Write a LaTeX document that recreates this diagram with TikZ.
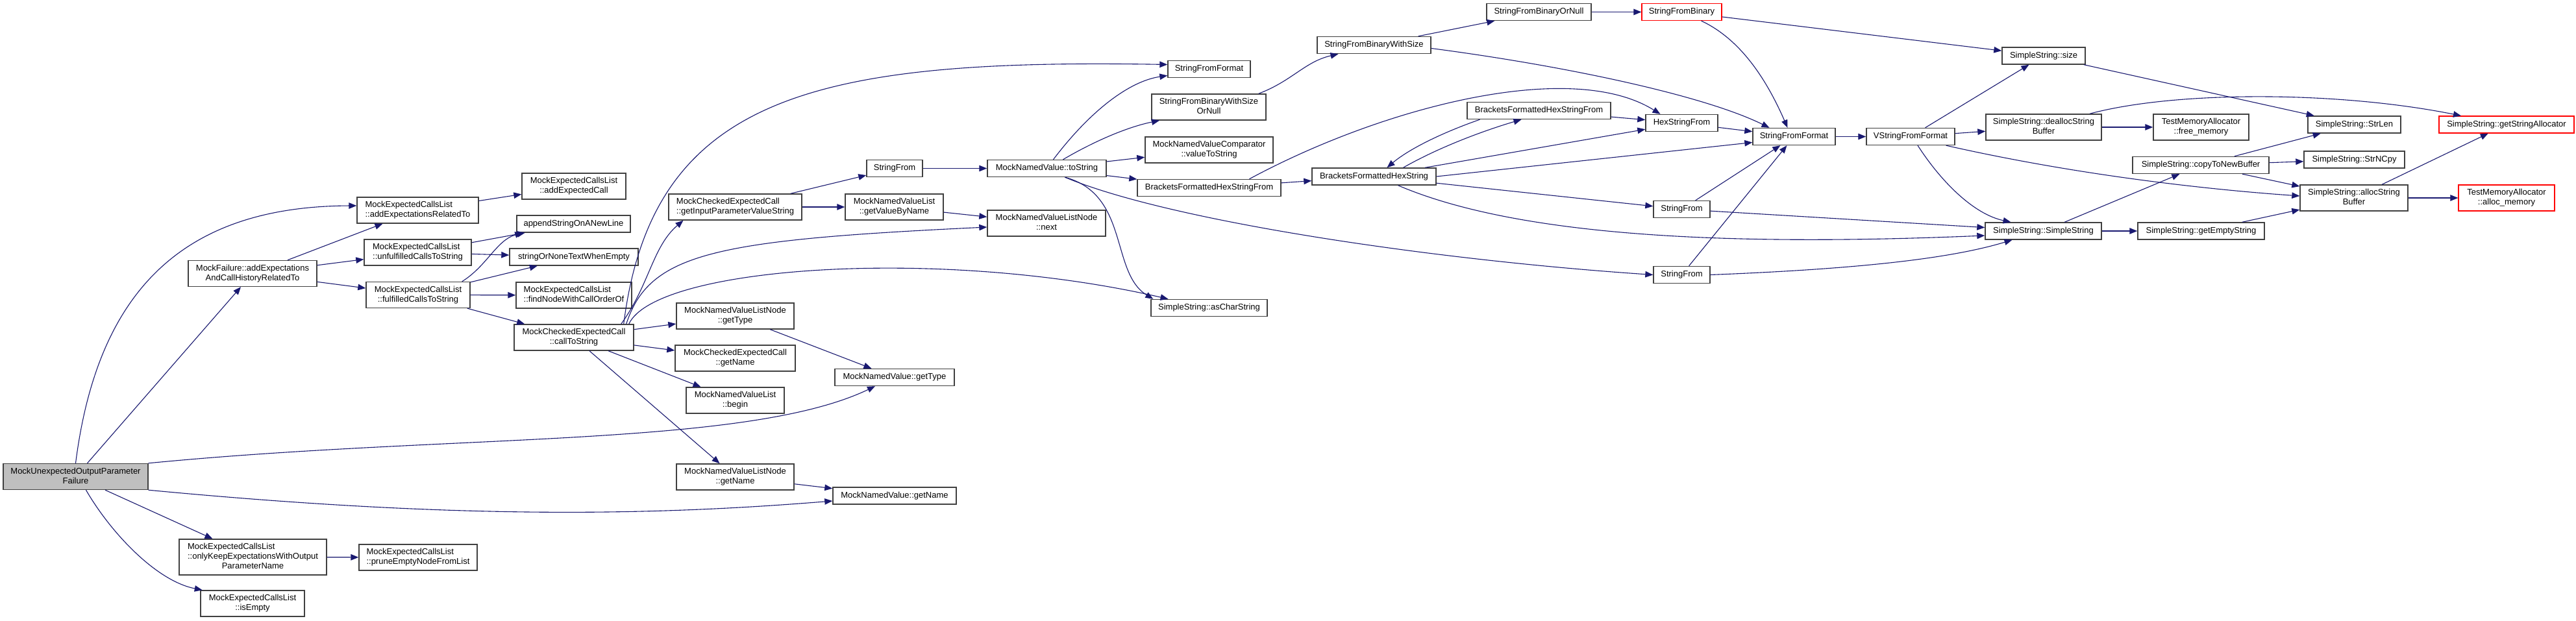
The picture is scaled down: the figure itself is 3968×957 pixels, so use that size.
\documentclass[tikz,border=0pt]{standalone}
\usepackage{fontspec}
\setmainfont{Liberation Sans}
\usepackage{tikz}
\usetikzlibrary{arrows.meta}
\definecolor{edgeblue}{HTML}{191970}
\definecolor{boxline}{gray}{0.25}
\definecolor{rootfill}{gray}{0.75}
\definecolor{extred}{HTML}{FF0000}
% two-part label: upper lines flush left, last line centred
\newcommand{\fnlabel}[2]{\begin{tabular}{@{}l@{}}#1\\\multicolumn{1}{@{}c@{}}{#2}\end{tabular}}

\begin{document}
\begin{tikzpicture}[
    x=1pt, y=-1pt,
    fn/.style  ={draw=boxline, line width=1.4pt, fill=white, inner xsep=0pt, inner ysep=5pt,
                 minimum height=26pt, align=center, font=\fontsize{13}{15}\selectfont},
    root/.style={fn, fill=rootfill},
    ext/.style ={fn, draw=extred, line width=1.2pt},
    call/.style={-{Triangle[length=12pt,width=9.5pt]}, line width=1.1pt, draw=edgeblue}
]
\path[use as bounding box, fill=white] (0,0) rectangle (3968,957);

% Column 0/1 -- the failure and the expectation list
\node[root, minimum width=223pt] (main)        at (116.5,734.5) {\fnlabel{MockUnexpectedOutputParameter}{Failure}};
\node[fn, minimum width=198pt]   (failRel)     at (389,421.5)   {\fnlabel{MockFailure::addExpectations}{AndCallHistoryRelatedTo}};
\node[fn, minimum width=227pt]   (keepOut)     at (389.5,858.5) {\fnlabel{MockExpectedCallsList\\::onlyKeepExpectationsWithOutput}{ParameterName}};
\node[fn, minimum width=160pt]   (isEmpty)     at (389,930)     {\fnlabel{MockExpectedCallsList}{::isEmpty}};
\node[fn, minimum width=187pt]   (addExpRel)   at (643.5,324)   {\fnlabel{MockExpectedCallsList}{::addExpectationsRelatedTo}};
\node[fn, minimum width=165pt]   (unfulfilled) at (643.5,389)   {\fnlabel{MockExpectedCallsList}{::unfulfilledCallsToString}};
\node[fn, minimum width=160pt]   (fulfilled)   at (644,454.5)   {\fnlabel{MockExpectedCallsList}{::fulfilledCallsToString}};
\node[fn, minimum width=182pt]   (prune)       at (644,859)     {\fnlabel{MockExpectedCallsList}{::pruneEmptyNodeFromList}};

% Column 2 -- string helpers and callToString
\node[fn, minimum width=160pt] (addCall)    at (884,287)   {\fnlabel{MockExpectedCallsList}{::addExpectedCall}};
\node[fn, minimum width=175pt] (appendLine) at (883.5,345) {appendStringOnANewLine};
\node[fn, minimum width=198pt] (noneText)   at (884,396)   {stringOrNoneTextWhenEmpty};
\node[fn, minimum width=178pt] (findNode)   at (884,455)   {\fnlabel{MockExpectedCallsList}{::findNodeWithCallOrderOf}};
\node[fn, minimum width=184pt] (callStr)    at (884,520)   {\fnlabel{MockCheckedExpectedCall}{::callToString}};

% Column 3 -- named value lists
\node[fn, minimum width=205pt] (inParam)     at (1132.5,319) {\fnlabel{MockCheckedExpectedCall}{::getInputParameterValueString}};
\node[fn, minimum width=181pt] (nodeType)    at (1132.5,487) {\fnlabel{MockNamedValueListNode}{::getType}};
\node[fn, minimum width=185pt] (checkedName) at (1132.5,552) {\fnlabel{MockCheckedExpectedCall}{::getName}};
\node[fn, minimum width=151pt] (listBegin)   at (1132.5,617) {\fnlabel{MockNamedValueList}{::begin}};
\node[fn, minimum width=181pt] (nodeName)    at (1132.5,735) {\fnlabel{MockNamedValueListNode}{::getName}};

% Column 4/5 -- named values
\node[fn, minimum width=86pt]  (strFromA) at (1378,259.5)   {StringFrom};
\node[fn, minimum width=151pt] (byName)   at (1377.5,319)   {\fnlabel{MockNamedValueList}{::getValueByName}};
\node[fn, minimum width=184pt] (valType)  at (1378,581.5)   {MockNamedValue::getType};
\node[fn, minimum width=190pt] (valName)  at (1378,764)     {MockNamedValue::getName};
\node[fn, minimum width=183pt] (toStr)    at (1612.5,259.5) {MockNamedValue::toString};
\node[fn, minimum width=182pt] (nextNode) at (1612,344)     {\fnlabel{MockNamedValueListNode}{::next}};

% Column 6 -- formatting
\node[fn, minimum width=127pt] (fmtA)        at (1862.5,106.5) {StringFromFormat};
\node[fn, minimum width=176pt] (binSizeNull) at (1862,165)     {\fnlabel{StringFromBinaryWithSize}{OrNull}};
\node[fn, minimum width=197pt] (cmpValue)    at (1862.5,231)   {\fnlabel{MockNamedValueComparator}{::valueToString}};
\node[fn, minimum width=221pt] (hexFromA)    at (1862.5,289.5) {BracketsFormattedHexStringFrom};
\node[fn, minimum width=179pt] (asChar)      at (1862.5,474.5) {SimpleString::asCharString};

% Column 7/8 -- binary and hex strings
\node[fn, minimum width=175pt]  (binSize)  at (2116.5,69.5)  {StringFromBinaryWithSize};
\node[fn, minimum width=191pt]  (hexStr)   at (2116.5,272)   {BracketsFormattedHexString};
\node[fn, minimum width=161pt]  (binNull)  at (2370.5,18.5)  {StringFromBinaryOrNull};
\node[fn, minimum width=221pt]  (hexFromB) at (2370.5,170.5) {BracketsFormattedHexStringFrom};
\node[ext, minimum width=123pt] (binary)   at (2590.5,18.5)  {StringFromBinary};
\node[fn, minimum width=111pt]  (hexFrom)  at (2590.5,189.5) {HexStringFrom};
\node[fn, minimum width=87pt]   (strFromB) at (2590.5,322.5) {StringFrom};
\node[fn, minimum width=87pt]   (strFromC) at (2590.5,423.5) {StringFrom};

% Column 9/10 -- SimpleString
\node[fn, minimum width=127pt] (fmtB)    at (2763.5,210.5) {StringFromFormat};
\node[fn, minimum width=136pt] (vfmt)    at (2943,210.5)   {VStringFromFormat};
\node[fn, minimum width=128pt] (ssSize)  at (3148,86)      {SimpleString::size};
\node[fn, minimum width=178pt] (dealloc) at (3148,196)     {\fnlabel{SimpleString::deallocString}{Buffer}};
\node[fn, minimum width=179pt] (ssCtor)  at (3147.5,356)   {SimpleString::SimpleString};

% Column 11-13 -- buffers and allocators
\node[fn, minimum width=147pt]  (freeMem)  at (3390.5,196)   {\fnlabel{TestMemoryAllocator}{::free\_memory}};
\node[fn, minimum width=210pt]  (copyBuf)  at (3390,254.5)   {SimpleString::copyToNewBuffer};
\node[fn, minimum width=195pt]  (emptyStr) at (3390.5,356)   {SimpleString::getEmptyString};
\node[fn, minimum width=143pt]  (strLen)   at (3626.5,192)   {SimpleString::StrLen};
\node[fn, minimum width=155pt]  (strNCpy)  at (3626.5,246)   {SimpleString::StrNCpy};
\node[fn, minimum width=166pt]  (allocBuf) at (3626,305)     {\fnlabel{SimpleString::allocString}{Buffer}};
\node[ext, minimum width=208pt] (getAlloc) at (3861,192)     {SimpleString::getStringAllocator};
\node[ext, minimum width=148pt] (allocMem) at (3861,305)     {\fnlabel{TestMemoryAllocator}{::alloc\_memory}};

% Calls from the failure
\draw[call] (main.north) .. controls (150,450) and (280,318) .. ([yshift=7pt]addExpRel.west);
\draw[call] (main) -- (failRel);
\draw[call] (main.north east) .. controls (700,668) and (1150,690) .. ([xshift=-30pt]valType.south);
\draw[call] (main.south east) .. controls (700,800) and (1000,795) .. ([yshift=-8pt]valName.west);
\draw[call] (main) -- (keepOut);
\draw[call] ([xshift=16pt]main.south) .. controls (170,820) and (240,895) .. (isEmpty.165);
\draw[call] (keepOut) -- (prune);
% Expectation list
\draw[call] (failRel) -- (addExpRel);
\draw[call] (failRel) -- (unfulfilled);
\draw[call] (failRel) -- (fulfilled);
\draw[call] (addExpRel) -- (addCall);
\draw[call] (unfulfilled) -- (appendLine);
\draw[call] (unfulfilled) -- (noneText);
\draw[call] ([xshift=-13pt]fulfilled.north east) .. controls (750,410) and (765,370) .. ([xshift=10pt]appendLine.south west);
\draw[call] (fulfilled) -- (noneText);
\draw[call] (fulfilled) -- (findNode);
\draw[call] (fulfilled) -- (callStr);
% callToString
\draw[call] ([xshift=-20pt]callStr.north east) .. controls (1000,440) and (1005,380) .. ([xshift=-80pt]inParam.south);
\draw[call] ([xshift=-16pt]callStr.north east) .. controls (1005,150) and (1250,90) .. ([yshift=7pt]fmtA.west);
\draw[call] ([xshift=-12pt]callStr.north east) .. controls (1000,390) and (1100,370) .. ([yshift=-6pt]nextNode.west);
\draw[call] ([xshift=-8pt]callStr.north east) .. controls (1010,410) and (1450,380) .. ([xshift=-63pt]asChar.north);
\draw[call] (callStr) -- (nodeType);
\draw[call] (callStr) -- (checkedName);
\draw[call] (callStr) -- (listBegin);
\draw[call] (callStr) -- (nodeName);
\draw[call] (nodeType) -- (valType);
\draw[call] (nodeName) -- (valName);
% Parameter values
\draw[call] (inParam) -- (strFromA);
\draw[call] (inParam) -- (byName);
\draw[call] (byName) -- (nextNode);
\draw[call] (strFromA) -- (toStr);
% toString
\draw[call] ([xshift=10pt]toStr.north) .. controls (1680,170) and (1740,125) .. ([yshift=-10pt]fmtA.west);
\draw[call] ([xshift=25pt]toStr.north) .. controls (1690,215) and (1740,195) .. ([xshift=-76pt]binSizeNull.south);
\draw[call] (toStr) -- (cmpValue);
\draw[call] (toStr) -- (hexFromA);
\draw[call] ([xshift=28pt]toStr.south) .. controls (1740,300) and (1710,420) .. ([xshift=4pt]asChar.north west);
\draw[call] ([xshift=28pt]toStr.south) .. controls (1800,340) and (2200,400) .. (strFromC.west);
% Binary strings
\draw[call] ([xshift=-12pt]binSizeNull.north east) .. controls (1990,125) and (2010,95) .. ([xshift=-55pt]binSize.south);
\draw[call] (binSize) -- (binNull);
\draw[call] (binNull) -- (binary);
\draw[call] ([yshift=-5pt]binSize.east) .. controls (2400,100) and (2620,145) .. ([xshift=-38pt]fmtB.north);
\draw[call] ([xshift=30pt]binary.south) .. controls (2680,60) and (2720,120) .. ([xshift=-10pt]fmtB.north);
\draw[call] (binary) -- (ssSize);
% Hex strings
\draw[call] (hexFromA) -- (hexStr);
\draw[call] ([xshift=62pt]hexFromA.north) .. controls (2130,165) and (2420,90) .. ([xshift=-33pt]hexFrom.north);
\draw[call] ([xshift=45pt]hexStr.north) .. controls (2220,225) and (2290,200) .. ([xshift=-27pt]hexFromB.south);
\draw[call] ([xshift=-91pt]hexFromB.south) .. controls (2220,205) and (2170,230) .. ([xshift=20pt]hexStr.north);
\draw[call] (hexFromB) -- (hexFrom);
\draw[call] (hexStr) -- (hexFrom);
\draw[call] (hexStr.east) -- ([yshift=-9pt]fmtB.west);
\draw[call] (hexStr) -- (strFromB);
\draw[call] ([xshift=37pt]hexStr.south) .. controls (2350,370) and (2700,378) .. ([yshift=-7pt]ssCtor.west);
\draw[call] (hexFrom) -- (fmtB);
\draw[call] (strFromB) -- (fmtB);
\draw[call] (strFromB) -- (ssCtor);
\draw[call] (strFromC) -- (fmtB);
\draw[call] (strFromC.east) .. controls (2850,415) and (3000,400) .. ([xshift=-48pt]ssCtor.south);
% VStringFromFormat
\draw[call] (fmtB) -- (vfmt);
\draw[call] (vfmt) -- (ssSize);
\draw[call] (vfmt) -- (dealloc);
\draw[call] ([xshift=11pt]vfmt.south) .. controls (2990,280) and (3040,330) .. ([xshift=-50pt]ssCtor.north);
\draw[call] ([xshift=-14pt]vfmt.south east) .. controls (3200,270) and (3400,292) .. ([yshift=3pt]allocBuf.west);
% SimpleString internals
\draw[call] (ssSize) -- (strLen);
\draw[call] (dealloc) -- (freeMem);
\draw[call] ([xshift=71pt]dealloc.north) .. controls (3350,140) and (3600,140) .. ([xshift=-70pt]getAlloc.north);
\draw[call] (ssCtor) -- (emptyStr);
\draw[call] (ssCtor) -- (copyBuf);
\draw[call] (copyBuf) -- (strLen);
\draw[call] (copyBuf) -- (strNCpy);
\draw[call] (copyBuf) -- (allocBuf);
\draw[call] (emptyStr) -- (allocBuf);
\draw[call] (allocBuf) -- (getAlloc);
\draw[call] (allocBuf) -- (allocMem);
\end{tikzpicture}
\end{document}
